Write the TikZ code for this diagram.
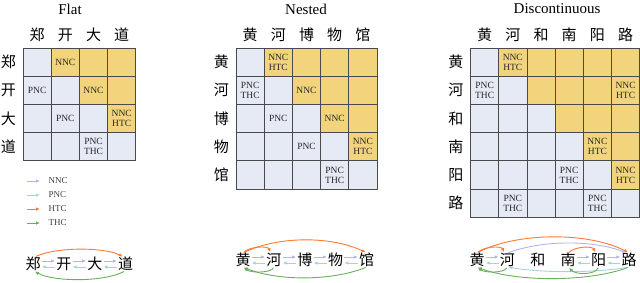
\documentclass[tikz,border=0pt]{standalone}
\usepackage{fontspec}
\setmainfont{Liberation Serif}
\newfontfamily\cjk{Noto Sans CJK SC}
\usetikzlibrary{arrows.meta,positioning}
\definecolor{cellblue}{HTML}{E5EAF4}
\definecolor{cellgold}{HTML}{F1D47C}
\definecolor{gridgray}{HTML}{4A4A4A}
\definecolor{nnccol}{HTML}{B4B4F0}
\definecolor{pnccol}{HTML}{A8D2DB}
\definecolor{htccol}{HTML}{FF7A2E}
\definecolor{thccol}{HTML}{6BAE5E}

% #1 prefix, #2 left edge, #3 number of characters
\newcommand{\tagmatrix}[3]{%
  \foreach \row in {1,...,#3}{
    \foreach \col in {1,...,#3}{
      \ifnum\col>\row \def\cf{cellgold}\else\def\cf{cellblue}\fi
      \node[cell,fill=\cf] (#1-\row-\col) at ({#2+(\col-0.5)*28.2},{48+(\row-0.5)*28.2}) {};
    }
  }
}

\begin{document}
\begin{tikzpicture}[x=1pt,y=-1pt,
  cell/.style={draw=gridgray,line width=0.8pt,minimum size=28.2pt,inner sep=0pt,outer sep=0pt},
  tag/.style={font=\fontsize{9.5}{10}\selectfont,align=center,text=black!85},
  hz/.style={font=\cjk\fontsize{15}{15}\selectfont,inner sep=0pt},
  title/.style={font=\fontsize{15}{15}\selectfont},
  legtxt/.style={font=\fontsize{9}{9}\selectfont,text=black!75},
  lnk/.style={line width=0.9pt,-{Latex[length=4pt,width=3.5pt]},shorten <=1pt,shorten >=1pt},
  nnc/.style={lnk,nnccol},
  pnc/.style={lnk,pnccol},
  htc/.style={lnk,htccol},
  thc/.style={lnk,thccol}]
\useasboundingbox (0,0) rectangle (640,282);

% titles
\node[title] at (70,9) {Flat};
\node[title] at (306,9) {Nested};
\node[title] at (557,9) {Discontinuous};

% Flat matrix
\tagmatrix{f}{23}{4}
\foreach \ch [count=\k] in {郑,开,大,道}{
  \node[hz,above=6pt of f-1-\k] {\ch};
  \node[hz,left=7pt of f-\k-1] {\ch};
}
\node[tag] at (f-1-2) {NNC};
\node[tag] at (f-2-3) {NNC};
\node[tag] at (f-3-4) {NNC\\HTC};
\node[tag] at (f-2-1) {PNC};
\node[tag] at (f-3-2) {PNC};
\node[tag] at (f-4-3) {PNC\\THC};

% Nested matrix
\tagmatrix{n}{236}{5}
\foreach \ch [count=\k] in {黄,河,博,物,馆}{
  \node[hz,above=6pt of n-1-\k] {\ch};
  \node[hz,left=7pt of n-\k-1] {\ch};
}
\node[tag] at (n-1-2) {NNC\\HTC};
\node[tag] at (n-2-3) {NNC};
\node[tag] at (n-3-4) {NNC};
\node[tag] at (n-4-5) {NNC\\HTC};
\node[tag] at (n-2-1) {PNC\\THC};
\node[tag] at (n-3-2) {PNC};
\node[tag] at (n-4-3) {PNC};
\node[tag] at (n-5-4) {PNC\\THC};

% Discontinuous matrix
\tagmatrix{d}{470.5}{6}
\foreach \ch [count=\k] in {黄,河,和,南,阳,路}{
  \node[hz,above=6pt of d-1-\k] {\ch};
  \node[hz,left=7pt of d-\k-1] {\ch};
}
\node[tag] at (d-1-2) {NNC\\HTC};
\node[tag] at (d-2-6) {NNC\\HTC};
\node[tag] at (d-4-5) {NNC\\HTC};
\node[tag] at (d-5-6) {NNC\\HTC};
\node[tag] at (d-2-1) {PNC\\THC};
\node[tag] at (d-5-4) {PNC\\THC};
\node[tag] at (d-6-2) {PNC\\THC};
\node[tag] at (d-6-5) {PNC\\THC};

% legend
\foreach \nm/\st [count=\k] in {NNC/nnc,PNC/pnc,HTC/htc,THC/thc}{
  \coordinate (ls\k) at (26,{167+14*\k});
  \coordinate (le\k) at (41,{167+14*\k});
  \draw[\st] (ls\k) -- (le\k);
  \node[legtxt,right=4pt of le\k] {\nm};
}

% Flat chain
\node[hz] (fa) at (33,264) {郑};
\node[hz,right=15.5pt of fa] (fb) {开};
\node[hz,right=15.5pt of fb] (fc) {大};
\node[hz,right=15.5pt of fc] (fd) {道};
\foreach \a/\b in {fa/fb,fb/fc,fc/fd}{
  \draw[nnc] ([yshift=3pt]\a.east) -- ([yshift=3pt]\b.west);
  \draw[pnc] ([yshift=-3pt]\b.west) -- ([yshift=-3pt]\a.east);
}
\draw[htc] ([xshift=2pt]fa.north) .. controls +(20,-10) and +(-20,-10) .. ([xshift=-2pt]fd.north);
\draw[thc] ([xshift=-1pt]fd.south) .. controls +(-20,11) and +(20,11) .. ([xshift=1pt]fa.south);

% Nested chain
\node[hz] (na) at (243,260) {黄};
\node[hz,right=15.5pt of na] (nb) {河};
\node[hz,right=15.5pt of nb] (nc) {博};
\node[hz,right=15.5pt of nc] (nd) {物};
\node[hz,right=15.5pt of nd] (ne) {馆};
\foreach \a/\b in {na/nb,nb/nc,nc/nd,nd/ne}{
  \draw[nnc] ([yshift=3pt]\a.east) -- ([yshift=3pt]\b.west);
  \draw[pnc] ([yshift=-3pt]\b.west) -- ([yshift=-3pt]\a.east);
}
\draw[htc] (na.north) .. controls +(8,-7) and +(-3,-7) .. ([xshift=-3pt]nb.north);
\draw[htc] (na.north) .. controls +(35,-17) and +(-35,-17) .. (ne.north);
\draw[thc] (nb.south) .. controls +(-3,6) and +(8,6) .. (na.south);
\draw[thc] (ne.south) .. controls +(-35,14) and +(35,14) .. (na.south);

% Discontinuous chain
\node[hz] (da) at (477,260) {黄};
\node[hz,right=15pt of da] (db) {河};
\node[hz,right=15pt of db] (dc) {和};
\node[hz,right=15pt of dc] (dd) {南};
\node[hz,right=15pt of dd] (de) {阳};
\node[hz,right=15pt of de] (df) {路};
\foreach \a/\b in {da/db,dd/de,de/df}{
  \draw[nnc] ([yshift=3pt]\a.east) -- ([yshift=3pt]\b.west);
  \draw[pnc] ([yshift=-3pt]\b.west) -- ([yshift=-3pt]\a.east);
}
\draw[htc] (da.north) .. controls +(40,-21) and +(-40,-21) .. (df.north);
\draw[nnc] (db.north) .. controls +(35,-13) and +(-35,-13) .. ([xshift=-2pt]df.north);
\draw[htc] (da.north) .. controls +(8,-7) and +(-3,-7) .. ([xshift=-3pt]db.north);
\draw[htc] (dd.north) .. controls +(8,-7) and +(-3,-7) .. ([xshift=-3pt]de.north);
\draw[pnc] (df.south) .. controls +(-35,6) and +(35,6) .. (db.south);
\draw[thc] (df.south) .. controls +(-40,15) and +(40,15) .. (da.south);
\draw[thc] (db.south) .. controls +(-3,6) and +(8,6) .. (da.south);
\draw[thc] (de.south) .. controls +(-3,8) and +(8,8) .. (dd.south);
\end{tikzpicture}
\end{document}
